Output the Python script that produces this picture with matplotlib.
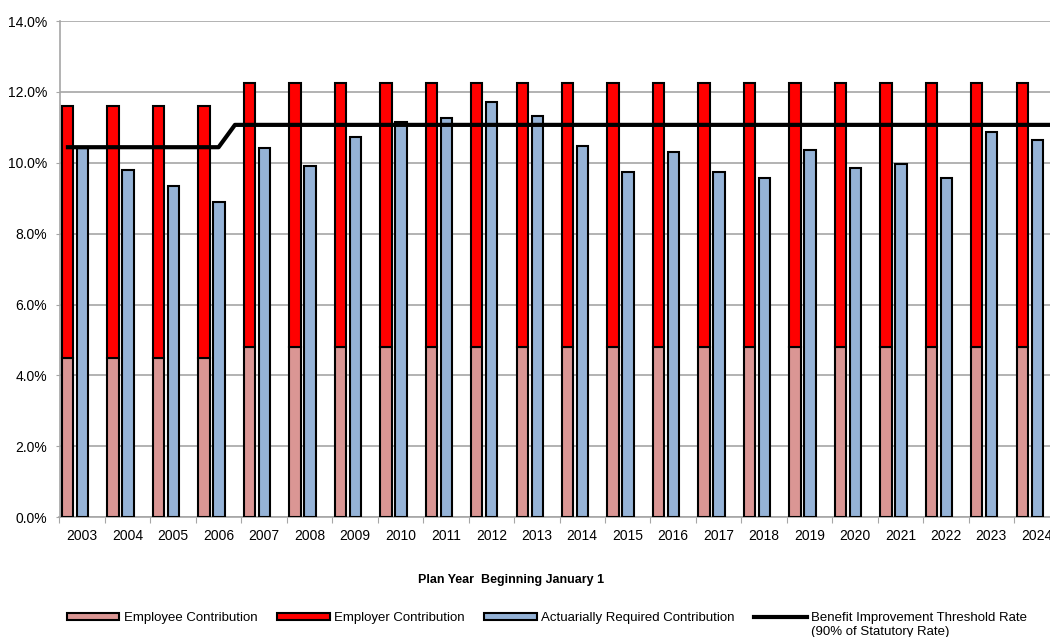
import matplotlib
matplotlib.use("Agg")

import matplotlib.pyplot as plt
from matplotlib.patches import Patch
from matplotlib.lines import Line2D
import numpy as np

plt.rcParams["font.family"] = ["Liberation Sans", "DejaVu Sans"]

# contribution rates, % of pay
years = [str(y) for y in range(2003, 2025)]
employee = [4.5] * 4 + [4.8] * 18
employer = [7.1] * 4 + [7.45] * 18
actuarial = [10.41, 9.80, 9.35, 8.89, 10.41, 9.91, 10.74, 11.14, 11.25, 11.71, 11.32,
             10.47, 9.74, 10.31, 9.74, 9.57, 10.36, 9.85, 9.97, 9.57, 10.87, 10.64]

# benefit improvement threshold (90% of statutory rate), x in category units
threshold_x = [-0.36, 3.0, 3.36, 21.6]
threshold_y = [10.44, 10.44, 11.07, 11.07]

c_employee = "#da9694"
c_employer = "#ff0000"
c_actuarial = "#95b3d7"
grid_c = "#a6a6a6"

fig = plt.figure(figsize=(10.5, 6.37), dpi=100)
ax = fig.add_axes([59.5 / 1050, 0.188, 1000 / 1050, 0.779])

x = np.arange(len(years))
w = 0.25
ax.bar(x - 0.32, employee, w, color=c_employee, edgecolor="black", linewidth=1.5, zorder=3)
ax.bar(x - 0.32, employer, w, bottom=employee, color=c_employer, edgecolor="black",
       linewidth=1.5, zorder=3)
ax.bar(x + 0.01, actuarial, w, color=c_actuarial, edgecolor="black", linewidth=1.5, zorder=3)
ax.plot(threshold_x, threshold_y, color="black", lw=3, zorder=4, solid_capstyle="butt")

ax.set_xlim(-0.5, len(years) - 0.5)
ax.set_ylim(0, 14)
ax.set_yticks(np.arange(0, 15, 2))
ax.set_yticklabels(["%.1f%%" % v for v in np.arange(0, 15, 2)], fontsize=10)
ax.yaxis.grid(True, color=grid_c, lw=1.2, zorder=0)
ax.tick_params(axis="y", length=3, color=grid_c, pad=6)

# ticks at category boundaries, labels at centers
ax.set_xticks(np.arange(-0.5, len(years), 1.0))
ax.set_xticklabels([])
ax.set_xticks(x, minor=True)
ax.set_xticklabels(years, minor=True, fontsize=10)
ax.tick_params(axis="x", which="major", length=4, color=grid_c)
ax.tick_params(axis="x", which="minor", length=0, pad=8.5)

for s in ["top", "right"]:
    ax.spines[s].set_visible(False)
for s in ["left", "bottom"]:
    ax.spines[s].set_color(grid_c)
    ax.spines[s].set_linewidth(1.2)

fig.text(511 / 1050, 1 - 580 / 637, "Plan Year  Beginning January 1", fontsize=9,
         fontweight="bold", ha="center", va="center")

handles = [
    Patch(facecolor=c_employee, edgecolor="black", linewidth=1.5),
    Patch(facecolor=c_employer, edgecolor="black", linewidth=1.5),
    Patch(facecolor=c_actuarial, edgecolor="black", linewidth=1.5),
    Line2D([], [], color="black", lw=3),
]
labels = ["Employee Contribution", "Employer Contribution",
          "Actuarially Required Contribution", "Benefit Improvement Threshold Rate"]
leg = fig.legend(handles, labels, ncol=4, loc="center left",
                 bbox_to_anchor=(66.7 / 1050, 1 - 618 / 637), frameon=False,
                 fontsize=9.5, handlelength=4.0, handleheight=0.45, handletextpad=0.35,
                 columnspacing=1.45, borderpad=0, borderaxespad=0)

fig.canvas.draw()
bb = leg.get_texts()[3].get_window_extent().transformed(fig.transFigure.inverted())
fig.text(bb.x0, bb.y0 - 1.5 / 637, "(90% of Statutory Rate)", fontsize=9.5,
         ha="left", va="top")

fig.savefig("out.png", dpi=100)
